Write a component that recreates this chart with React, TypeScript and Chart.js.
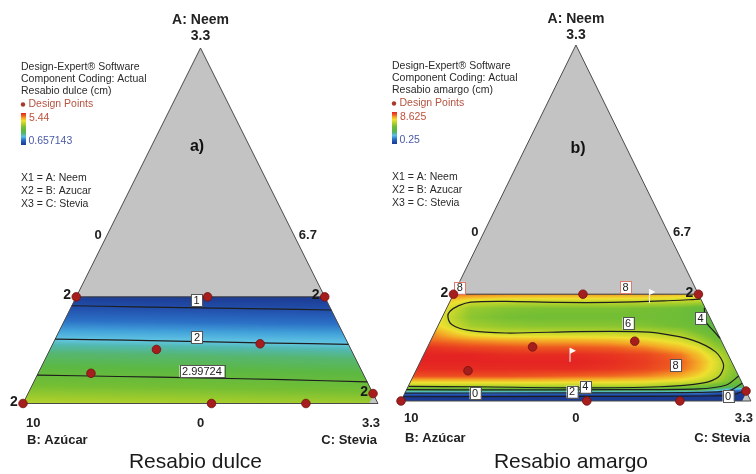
import React, { useEffect, useRef } from 'react';
import { Chart, registerables } from 'chart.js';

Chart.register(...registerables);

type AC = [number, number]; // [A: Neem share, C: Stevia share]  (B: Azúcar = 1 - A - C)

// ---------------- shared mixture design ----------------
const designPoints: AC[] = [
  [0.300, 0.000], [0.300, 0.370], [0.300, 0.700],
  [0.152, 0.300], [0.168, 0.584], [0.085, 0.149],
  [0.000, 0.000], [0.000, 0.531], [0.000, 0.797], [0.028, 0.972],
];
const neemUpperLimit = 0.30;
const steviaUpperLimit = 0.975;

const apexLabel = 'A: Neem';
const apexTick = '3.3';
const baseLeftLabel = 'B: Azúcar';
const baseRightLabel = 'C: Stevia';
const baseTicks = ['10', '0', '3.3'];
const sideTicks = ['0', '6.7'];
const sideTickNeem = 0.474;
const legendLines = ['Design-Expert® Software', 'Component Coding: Actual'];
const legendDesignPoints = 'Design Points';
const legendComponents = ['X1 = A: Neem', 'X2 = B: Azucar', 'X3 = C: Stevia'];

// ---------------- a) Resabio dulce ----------------
const dulceTitle = 'Resabio dulce';
const dulceResponse = 'Resabio dulce (cm)';
const dulceMin = 0.657143;
const dulceMax = 5.44;
const dulceMinLabel = '0.657143';
const dulceMaxLabel = '5.44';
const dulceGridX = [0, 0.5, 1];
const dulceGridY = [0, 0.06, 0.12, 0.18, 0.24, 0.31];
const dulceGrid = [
  [3.85, 3.77, 3.66],
  [3.20, 3.12, 3.01],
  [2.60, 2.52, 2.41],
  [2.00, 1.94, 1.86],
  [1.35, 1.29, 1.23],
  [0.62, 0.58, 0.54],
];
const dulceContour1: AC[] = [[0.275, 0], [0.272, 0.18], [0.269, 0.366], [0.266, 0.55], [0.263, 0.737]];
const dulceContour2: AC[] = [[0.181, 0], [0.178, 0.2], [0.174, 0.413], [0.170, 0.62], [0.1665, 0.8335]];
const dulceContour3: AC[] = [[0.080, 0], [0.076, 0.23], [0.072, 0.464], [0.067, 0.70], [0.061, 0.9395]];
const dulceLabelText = ['1', '2', '2.99724'];
const dulceLabelAt: AC[] = [[0.291, 0.3435], [0.187, 0.3965], [0.091, 0.4585]];
const dulceReplicates = [0, 2, 6, 9];

// ---------------- b) Resabio amargo ----------------
const amargoTitle = 'Resabio amargo';
const amargoResponse = 'Resabio amargo (cm)';
const amargoMin = 0.25;
const amargoMax = 8.625;
const amargoMinLabel = '0.25';
const amargoMaxLabel = '8.625';
const amargoGridX = [0, 0.1, 0.2, 0.3, 0.4, 0.5, 0.6, 0.7, 0.8, 0.85, 0.9, 0.95, 1.0];
const amargoGridY = [0, 0.013, 0.023, 0.032, 0.042, 0.055, 0.07, 0.09, 0.11, 0.13, 0.15, 0.17, 0.19, 0.21, 0.235, 0.26, 0.28, 0.295, 0.31];
const amargoGrid = [
  [-1.5, -1.5, -1.5, -1.5, -1.5, -1.5, -1.5, -1.5, -1.5, -1.5, -1.5, -1.5, -1.5],
  [0, 0, 0, 0, 0, 0, 0, 0, 0, 0, -0.4, -1, -1],
  [2, 2, 2, 2, 2, 2, 2, 2, 2, 1.9, 1.4, 0.5, 0.2],
  [4, 4, 4, 4, 4, 4, 4, 4, 4, 3.9, 3.1, 2.2, 1.8],
  [5.8, 5.8, 5.8, 5.8, 5.8, 5.8, 5.8, 5.8, 5.3, 5.0, 4.6, 4.0, 3.7],
  [6.9, 6.9, 6.9, 6.9, 6.9, 6.8, 6.8, 6.7, 6.4, 6.1, 5.6, 4.8, 4.3],
  [8.1, 8.1, 8.1, 8.1, 8.0, 7.9, 7.8, 7.6, 7.2, 6.7, 6.0, 5.0, 4.5],
  [8.5, 8.5, 8.5, 8.5, 8.5, 8.5, 8.4, 8.2, 7.8, 7.2, 6.3, 5.2, 4.8],
  [8.6, 8.6, 8.6, 8.6, 8.6, 8.6, 8.5, 8.3, 7.9, 7.3, 6.4, 5.2, 4.8],
  [8.6, 8.6, 8.6, 8.5, 8.5, 8.5, 8.4, 8.2, 7.7, 7.0, 6.1, 5.0, 4.7],
  [8.5, 8.4, 8.2, 8.1, 8.0, 8.0, 7.9, 7.6, 7.0, 6.5, 5.4, 4.8, 4.5],
  [7.9, 7.8, 7.5, 7.3, 7.2, 7.2, 7.1, 6.8, 6.3, 5.7, 4.9, 4.4, 4.2],
  [7.6, 7.4, 6.4, 6.1, 6.1, 6.0, 6.0, 6.0, 5.6, 5.0, 4.4, 4.0, 3.9],
  [7.2, 6.8, 5.6, 5.3, 5.2, 5.2, 5.2, 5.1, 4.8, 4.5, 3.95, 3.8, 3.7],
  [7.0, 6.6, 5.2, 4.9, 4.8, 4.8, 4.8, 4.8, 4.6, 4.25, 3.85, 3.7, 3.6],
  [7.2, 6.9, 5.4, 5.1, 5.0, 5.0, 5.0, 4.9, 4.7, 4.4, 4.0, 3.8, 3.7],
  [7.4, 7.2, 6.3, 6.1, 6.1, 6.1, 6.1, 6.1, 6.0, 5.9, 5.8, 5.7, 5.7],
  [7.6, 7.6, 7.4, 7.2, 7.1, 7.1, 7.1, 7.0, 6.8, 6.5, 6.2, 6.0, 6.0],
  [8.2, 8.2, 8.2, 8.2, 8.2, 8.2, 8.2, 8.1, 7.9, 7.6, 7.2, 7.0, 7.0],
];
const amargoContour6: AC[] = [
  [0.286, 0.712], [0.281, 0.6095], [0.277, 0.4615], [0.277, 0.3115], [0.280, 0.16], [0.278, 0.061],
  [0.268, 0.031], [0.252, 0.014], [0.237, 0.0155], [0.215, 0.0375], [0.199, 0.0905], [0.191, 0.2045],
  [0.195, 0.4025], [0.195, 0.5725], [0.19, 0.645], [0.171, 0.7475], [0.138, 0.83], [0.101, 0.8715],
  [0.068, 0.874], [0.05, 0.836], [0.04, 0.72], [0.037, 0.4815], [0.04, 0.2], [0.041, 0.0015],
];
const amargoContour4Side: AC[] = [[0.262, 0.736], [0.225, 0.7575], [0.195, 0.7975], [0.176, 0.824]];
const amargoContour4: AC[] = [[0.032, 0.0], [0.031, 0.2845], [0.032, 0.584], [0.034, 0.833], [0.045, 0.9075], [0.07, 0.93]];
const amargoContour2: AC[] = [[0.022, 0.0], [0.023, 0.4885], [0.024, 0.838], [0.03, 0.925], [0.05, 0.95]];
const amargoContour0: AC[] = [[0.012, 0.0], [0.013, 0.4935], [0.014, 0.873], [0.018, 0.941], [0.03, 0.97]];
const amargoLabelText = ['8', '8', '6', '4', '8', '0', '2', '4', '0'];
const amargoLabelAt: AC[] = [
  [0.318, 0.009], [0.319, 0.4825], [0.218, 0.54], [0.233, 0.7395], [0.101, 0.7345],
  [0.022, 0.201], [0.026, 0.476], [0.04, 0.507], [0.014, 0.928],
];
const amargoReplicates = [0, 2];
const amargoFlags: AC[] = [[0.110, 0.428], [0.275, 0.5725]];

// ---------------- styling ----------------
const FONT = '"Liberation Sans", Arial, Helvetica, sans-serif';
const COLORMAP: [number, string][] = [
  [0.0, '#1b3a92'], [0.08, '#2250ac'], [0.16, '#2c72c6'], [0.22, '#42a2da'],
  [0.28, '#62c6e2'], [0.31, '#52b8b0'], [0.36, '#56b670'], [0.44, '#5cb842'],
  [0.55, '#74be34'], [0.63, '#a0cc2c'], [0.70, '#cad82c'], [0.76, '#eee030'],
  [0.84, '#f4a826'], [0.92, '#ee5a20'], [1.0, '#e42222'],
];
const CMAP_RGB = COLORMAP.map(([t, h]) => [t, parseInt(h.slice(1, 3), 16), parseInt(h.slice(3, 5), 16), parseInt(h.slice(5, 7), 16)]);

function cmap(t: number): [number, number, number] {
  if (t <= 0) return [CMAP_RGB[0][1], CMAP_RGB[0][2], CMAP_RGB[0][3]];
  const n = CMAP_RGB.length;
  if (t >= 1) return [CMAP_RGB[n - 1][1], CMAP_RGB[n - 1][2], CMAP_RGB[n - 1][3]];
  let i = 0;
  while (i < n - 2 && t > CMAP_RGB[i + 1][0]) i++;
  const a = CMAP_RGB[i], b = CMAP_RGB[i + 1];
  const f = (t - a[0]) / (b[0] - a[0]);
  return [a[1] + (b[1] - a[1]) * f, a[2] + (b[2] - a[2]) * f, a[3] + (b[3] - a[3]) * f];
}

function locate(arr: number[], v: number): [number, number] {
  const n = arr.length;
  if (v <= arr[0]) return [0, 0];
  if (v >= arr[n - 1]) return [n - 2, 1];
  let i = 0;
  while (i < n - 2 && v > arr[i + 1]) i++;
  return [i, (v - arr[i]) / (arr[i + 1] - arr[i])];
}

function sample(gx: number[], gy: number[], grid: number[][], x: number, y: number) {
  const [i, tx] = locate(gx, x);
  const [j, ty] = locate(gy, y);
  const top = grid[j][i] * (1 - tx) + grid[j][i + 1] * tx;
  const bot = grid[j + 1][i] * (1 - tx) + grid[j + 1][i + 1] * tx;
  return top * (1 - ty) + bot * ty;
}

const toXY = ([a, c]: AC) => ({ x: c + a / 2, y: a });

interface PanelCfg {
  canvasLeft: number; canvasWidth: number;
  area: { left: number; right: number; top: number; bottom: number };
  title: string; response: string; vmin: number; vmax: number; minLabel: string; maxLabel: string;
  gridX: number[]; gridY: number[]; grid: number[][];
  contours: AC[][]; labelText: string[]; labelAt: AC[]; replicates: number[]; flags: AC[];
  tag: string; tagPos: [number, number];
  legendX: number; legendDy: number;
  apexY: [number, number]; tickY: number; vertexY: number; titleY: number;
}

const panels: PanelCfg[] = [
  {
    canvasLeft: 0, canvasWidth: 392,
    area: { left: 23, right: 378, top: 48, bottom: 403.5 },
    title: dulceTitle, response: dulceResponse, vmin: dulceMin, vmax: dulceMax,
    minLabel: dulceMinLabel, maxLabel: dulceMaxLabel,
    gridX: dulceGridX, gridY: dulceGridY, grid: dulceGrid,
    contours: [dulceContour1, dulceContour2, dulceContour3],
    labelText: dulceLabelText, labelAt: dulceLabelAt, replicates: dulceReplicates, flags: [],
    tag: 'a)', tagPos: [197, 147],
    legendX: 21, legendDy: 0,
    apexY: [20, 36], tickY: 423, vertexY: 440.5, titleY: 462,
  },
  {
    canvasLeft: 378, canvasWidth: 378,
    area: { left: 23, right: 378, top: 45, bottom: 401 },
    title: amargoTitle, response: amargoResponse, vmin: amargoMin, vmax: amargoMax,
    minLabel: amargoMinLabel, maxLabel: amargoMaxLabel,
    gridX: amargoGridX, gridY: amargoGridY, grid: amargoGrid,
    contours: [amargoContour6, amargoContour4Side, amargoContour4, amargoContour2, amargoContour0],
    labelText: amargoLabelText, labelAt: amargoLabelAt, replicates: amargoReplicates, flags: amargoFlags,
    tag: 'b)', tagPos: [200, 149],
    legendX: 14, legendDy: -1,
    apexY: [19, 35], tickY: 418.5, vertexY: 438.5, titleY: 462,
  },
];

function txt(ctx: CanvasRenderingContext2D, s: string, x: number, y: number, font: string, color: string, align: CanvasTextAlign = 'left') {
  ctx.font = font;
  ctx.fillStyle = color;
  ctx.textAlign = align;
  ctx.textBaseline = 'middle';
  ctx.fillText(s, x, y);
}

function makePlugin(cfg: PanelCfg) {
  const pix = (chart: any, p: AC): [number, number] => {
    const q = toXY(p);
    return [chart.scales.x.getPixelForValue(q.x), chart.scales.y.getPixelForValue(q.y)];
  };
  const path = (ctx: CanvasRenderingContext2D, pts: [number, number][]) => {
    ctx.beginPath();
    pts.forEach(([x, y], i) => (i ? ctx.lineTo(x, y) : ctx.moveTo(x, y)));
    ctx.closePath();
  };
  return {
    id: 'ternaryPanel',
    beforeDatasetsDraw(chart: any) {
      const ctx: CanvasRenderingContext2D = chart.ctx;
      const xs = chart.scales.x, ys = chart.scales.y;
      const apex = pix(chart, [1, 0]);
      const bl = pix(chart, [0, 0]);
      const br = pix(chart, [0, 1]);
      ctx.save();
      path(ctx, [apex, bl, br]);
      ctx.fillStyle = '#c3c3c3';
      ctx.fill();
      const region: [number, number][] = [
        pix(chart, [neemUpperLimit, 0]), pix(chart, [neemUpperLimit, 1 - neemUpperLimit]),
        pix(chart, [1 - steviaUpperLimit, steviaUpperLimit]), pix(chart, [0, steviaUpperLimit]), bl,
      ];
      const minX = Math.floor(Math.min(...region.map(p => p[0]))) - 1;
      const maxX = Math.ceil(Math.max(...region.map(p => p[0]))) + 1;
      const minY = Math.floor(Math.min(...region.map(p => p[1]))) - 1;
      const maxY = Math.ceil(Math.max(...region.map(p => p[1]))) + 1;
      const w = maxX - minX + 1, h = maxY - minY + 1;
      const off = document.createElement('canvas');
      off.width = w; off.height = h;
      const octx = off.getContext('2d')!;
      const img = octx.createImageData(w, h);
      for (let j = 0; j < h; j++) {
        const Y = ys.getValueForPixel(minY + j + 0.5);
        for (let i = 0; i < w; i++) {
          const X = xs.getValueForPixel(minX + i + 0.5);
          const v = sample(cfg.gridX, cfg.gridY, cfg.grid, X, Y);
          const [r, g, b] = cmap((v - cfg.vmin) / (cfg.vmax - cfg.vmin));
          const k = (j * w + i) * 4;
          img.data[k] = r; img.data[k + 1] = g; img.data[k + 2] = b; img.data[k + 3] = 255;
        }
      }
      octx.putImageData(img, 0, 0);
      ctx.save();
      path(ctx, region);
      ctx.clip();
      ctx.drawImage(off, minX, minY);
      ctx.restore();
      ctx.strokeStyle = '#3a3a3a';
      ctx.lineWidth = 1;
      ctx.beginPath();
      ctx.moveTo(region[0][0], region[0][1]);
      ctx.lineTo(region[1][0], region[1][1]);
      ctx.stroke();
      path(ctx, [apex, bl, br]);
      ctx.strokeStyle = '#4a4a4a';
      ctx.lineWidth = 1;
      ctx.stroke();

      const bold13 = `bold 13px ${FONT}`;
      txt(ctx, apexLabel, apex[0], cfg.apexY[0], `bold 14px ${FONT}`, '#222', 'center');
      txt(ctx, apexTick, apex[0], cfg.apexY[1], `bold 14px ${FONT}`, '#222', 'center');
      const sl = pix(chart, [sideTickNeem, 0]);
      const sr = pix(chart, [sideTickNeem, 1 - sideTickNeem]);
      txt(ctx, sideTicks[0], sl[0] - 9, sl[1], bold13, '#222', 'center');
      txt(ctx, sideTicks[1], sr[0] + 14, sr[1], bold13, '#222', 'center');
      const mid = pix(chart, [0, 0.5]);
      txt(ctx, baseTicks[0], bl[0] + 3, cfg.tickY, bold13, '#222', 'left');
      txt(ctx, baseTicks[1], mid[0], cfg.tickY, bold13, '#222', 'center');
      txt(ctx, baseTicks[2], br[0] + 2, cfg.tickY, bold13, '#222', 'right');
      txt(ctx, baseLeftLabel, bl[0] + 4, cfg.vertexY, bold13, '#222', 'left');
      txt(ctx, baseRightLabel, br[0] - 1, cfg.vertexY, bold13, '#222', 'right');
      txt(ctx, cfg.title, apex[0] - 5, cfg.titleY, `21px ${FONT}`, '#1a1a1a', 'center');
      txt(ctx, cfg.tag, cfg.tagPos[0], cfg.tagPos[1], `bold 16px ${FONT}`, '#111', 'center');

      const lx = cfg.legendX, dy = cfg.legendDy;
      const f10 = `10.5px ${FONT}`;
      txt(ctx, legendLines[0], lx, 67 + dy, f10, '#2a2a2a');
      txt(ctx, legendLines[1], lx, 79 + dy, f10, '#2a2a2a');
      txt(ctx, cfg.response, lx, 91.5 + dy, f10, '#2a2a2a');
      ctx.fillStyle = '#a8392a';
      ctx.beginPath();
      ctx.arc(lx + 2, 104.5 + dy, 2.2, 0, Math.PI * 2);
      ctx.fill();
      txt(ctx, legendDesignPoints, lx + 7.5, 104.5 + dy, f10, '#b5533f');
      const barTop = 113 + dy, barBot = 145 + dy;
      const grad = ctx.createLinearGradient(0, barBot, 0, barTop);
      COLORMAP.forEach(([t, c]) => grad.addColorStop(t, c));
      ctx.fillStyle = grad;
      ctx.fillRect(lx, barTop, 5, barBot - barTop);
      txt(ctx, cfg.maxLabel, lx + 8, 118 + dy, f10, '#c0503a');
      txt(ctx, cfg.minLabel, lx + 7.5, 141.5 + dy, f10, '#4a5aa8');
      legendComponents.forEach((s, i) => txt(ctx, s, lx, 178 + dy + i * 13, f10, '#2a2a2a'));
      ctx.restore();
    },
    beforeDatasetDraw(chart: any, args: any) {
      if (args.index !== 0) return;
      const ctx: CanvasRenderingContext2D = chart.ctx;
      ctx.save();
      ctx.font = `11px ${FONT}`;
      cfg.labelText.forEach((s, i) => {
        const [x, y] = pix(chart, cfg.labelAt[i]);
        const w = ctx.measureText(s).width + 5;
        const h = 12;
        ctx.fillStyle = '#ffffff';
        ctx.fillRect(x - w / 2, y - h / 2, w, h);
        ctx.strokeStyle = cfg.labelAt[i][0] > neemUpperLimit ? '#e07a6a' : '#555';
        ctx.lineWidth = 1;
        ctx.strokeRect(Math.round(x - w / 2) + 0.5, Math.round(y - h / 2) + 0.5, Math.round(w), h);
        txt(ctx, s, x, y + 0.5, `11px ${FONT}`, '#222', 'center');
        ctx.font = `11px ${FONT}`;
      });
      cfg.flags.forEach((p) => {
        const [x, y] = pix(chart, p);
        ctx.strokeStyle = '#f2f2f2';
        ctx.lineWidth = 1;
        ctx.beginPath();
        ctx.moveTo(x, y);
        ctx.lineTo(x, y - 14);
        ctx.stroke();
        ctx.fillStyle = '#ffffff';
        ctx.beginPath();
        ctx.moveTo(x, y - 14);
        ctx.lineTo(x + 6, y - 11);
        ctx.lineTo(x, y - 8);
        ctx.closePath();
        ctx.fill();
      });
      ctx.restore();
    },
    afterDatasetsDraw(chart: any) {
      const ctx: CanvasRenderingContext2D = chart.ctx;
      ctx.save();
      cfg.replicates.forEach((i) => {
        const [x, y] = pix(chart, designPoints[i]);
        txt(ctx, '2', x - 9, y - 1.5, `bold 14px ${FONT}`, '#1a1a1a', 'center');
      });
      ctx.restore();
    },
  };
}

function Panel({ cfg }: { cfg: PanelCfg }) {
  const ref = useRef<HTMLCanvasElement>(null);
  useEffect(() => {
    const canvas = ref.current!;
    const datasets: any[] = [
      {
        data: designPoints.map(toXY),
        showLine: false,
        pointRadius: 4.3,
        pointBackgroundColor: '#a51d1d',
        pointBorderColor: '#721010',
        pointBorderWidth: 0.8,
        clip: false,
      },
      ...cfg.contours.map((c) => ({
        data: c.map(toXY),
        showLine: true,
        pointRadius: 0,
        borderColor: '#1e1e1e',
        borderWidth: 1.2,
        tension: 0.3,
        fill: false,
        clip: false,
      })),
    ];
    const chart = new Chart(canvas, {
      type: 'scatter',
      data: { datasets },
      options: {
        animation: false,
        responsive: false,
        devicePixelRatio: 1,
        events: [],
        layout: {
          padding: {
            left: cfg.area.left,
            right: cfg.canvasWidth - cfg.area.right,
            top: cfg.area.top,
            bottom: 474 - cfg.area.bottom,
          },
        },
        scales: {
          x: { type: 'linear', min: 0, max: 1, display: false },
          y: { type: 'linear', min: 0, max: 1, display: false },
        },
        plugins: { legend: { display: false }, tooltip: { enabled: false } },
      },
      plugins: [makePlugin(cfg)],
    } as any);
    return () => chart.destroy();
  }, [cfg]);
  return (
    <canvas
      ref={ref}
      width={cfg.canvasWidth}
      height={474}
      style={{ position: 'absolute', left: cfg.canvasLeft, top: 0, width: cfg.canvasWidth, height: 474 }}
    />
  );
}

export default function App() {
  return (
    <div style={{ position: 'fixed', left: 0, top: 0, width: 756, height: 474, background: '#ffffff', overflow: 'hidden' }}>
      {panels.map((p, i) => (
        <Panel key={i} cfg={p} />
      ))}
    </div>
  );
}
